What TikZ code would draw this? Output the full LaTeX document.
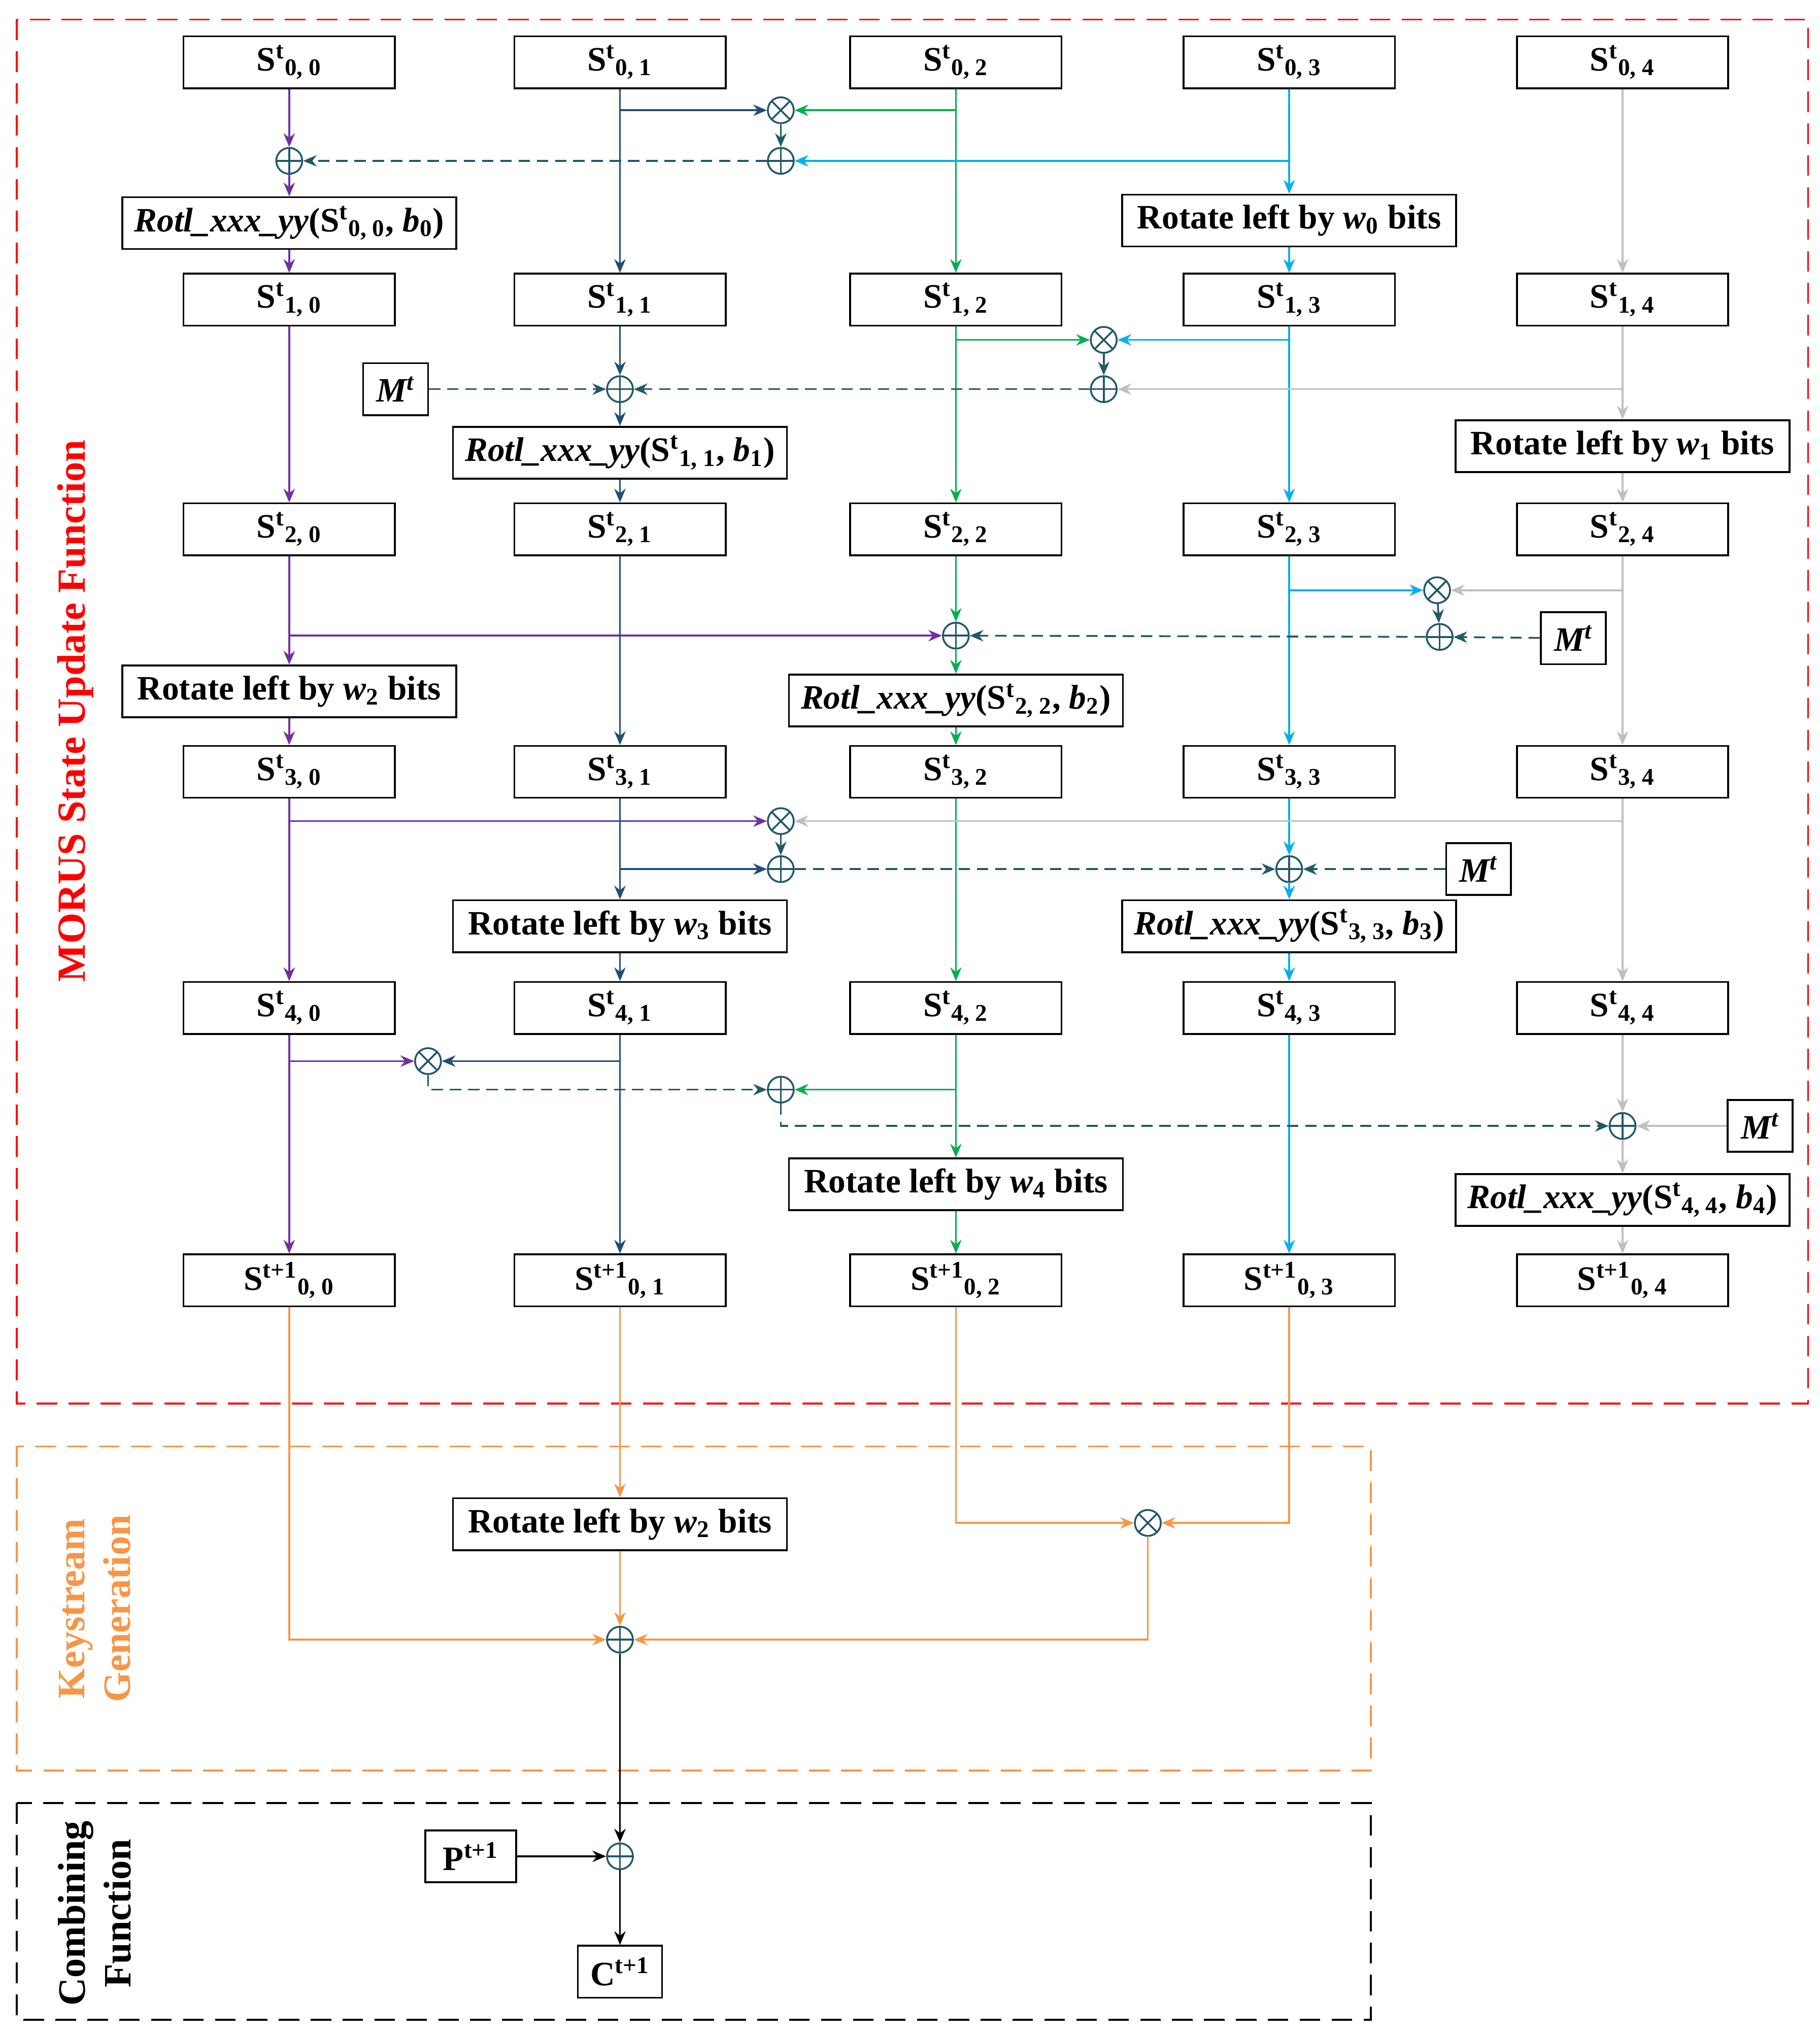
\documentclass[tikz,border=0pt]{standalone}
\usepackage{fontspec}
\setmainfont{Liberation Serif}
\usetikzlibrary{arrows.meta,calc}
\definecolor{pur}{RGB}{112,48,160}
\definecolor{blu}{RGB}{31,78,121}
\definecolor{grn}{RGB}{0,176,80}
\definecolor{cya}{RGB}{0,176,240}
\definecolor{gry}{RGB}{191,191,191}
\definecolor{tl}{RGB}{33,89,104}
\definecolor{org}{RGB}{247,150,70}
\newcommand{\St}[2]{\textbf{S\textsuperscript{#1}\textsubscript{#2}}}
\newcommand{\Rotl}[2]{\textbf{\textit{Rotl\_xxx\_yy}}(S\textsuperscript{t}\textsubscript{#1}, \textit{b}\textsubscript{#2})}
\newcommand{\Rot}[1]{Rotate left by \textit{w}\textsubscript{#1} bits}
\newcommand{\Mt}{\textit{M\textsuperscript{t}}}
\begin{document}
\begin{tikzpicture}[x=0.02cm,y=-0.02cm,
  box/.style={draw,thick,minimum width=3.26cm,minimum height=0.8cm,inner sep=1pt,font=\fontsize{15}{17}\bfseries\selectfont},
  rbox/.style={box,minimum width=5.15cm},
  mbox/.style={box,minimum width=1cm},
  arr/.style={thick,-{Stealth[length=6pt,width=5pt]}},
  dsh/.style={arr,dashed,dash pattern=on 5pt off 3pt},
  opp/.style={draw=tl,thick,circle,minimum size=0.4cm,inner sep=0pt,fill=white},
  plus/.style={opp,path picture={\draw[tl] (path picture bounding box.north)--(path picture bounding box.south) (path picture bounding box.west)--(path picture bounding box.east);}},
  times/.style={opp,path picture={\draw[tl] (path picture bounding box.north west)--(path picture bounding box.south east) (path picture bounding box.north east)--(path picture bounding box.south west);}}]
\useasboundingbox (0,0) rectangle (1403,1568);
% frames
\draw[red,thick,dash pattern=on 9pt off 5pt] (13,15) rectangle (1394,1082);
\draw[org,thick,dash pattern=on 9pt off 5pt] (13,1115) rectangle (1057,1365);
\draw[black,thick,dash pattern=on 9pt off 5pt] (13,1390) rectangle (1057,1557);
\node[rotate=90,red,font=\fontsize{17.5}{19}\bfseries\selectfont] (lab1) at (58,548) {MORUS State Update Function};
\node[rotate=90,org,align=center,font=\fontsize{17}{20}\bfseries\selectfont] (lab2) at (73,1240) {Keystream\\Generation};
\node[rotate=90,align=center,font=\fontsize{17}{20}\bfseries\selectfont] (lab3) at (73,1475) {Combining\\Function};
% state boxes
\foreach \r/\y in {0/48,1/231,2/408,3/595,4/777}
  \foreach \c/\x in {0/223,1/478,2/737,3/994,4/1251}
    \node[box] (s\r\c) at (\x,\y) {\St{t}{\r, \c}};
\foreach \c/\x in {0/223,1/478,2/737,3/994,4/1251}
  \node[box] (s5\c) at (\x,987) {\St{t+1}{0, \c}};
% rotation boxes
\node[rbox] (r0) at (223,172) {\Rotl{0, 0}{0}};
\node[rbox] (w0) at (994,170) {\Rot{0}};
\node[rbox] (r1) at (478,349) {\Rotl{1, 1}{1}};
\node[rbox] (w1) at (1251,344) {\Rot{1}};
\node[rbox] (r2) at (737,540) {\Rotl{2, 2}{2}};
\node[rbox] (w2) at (223,533) {\Rot{2}};
\node[rbox] (r3) at (994,714) {\Rotl{3, 3}{3}};
\node[rbox] (w3) at (478,714) {\Rot{3}};
\node[rbox] (r4) at (1251,925) {\Rotl{4, 4}{4}};
\node[rbox] (w4) at (737,913) {\Rot{4}};
\node[rbox] (kw) at (478,1175) {\Rot{2}};
% message boxes
\node[mbox] (m1) at (305,300) {\Mt};
\node[mbox] (m2) at (1213,492) {\Mt};
\node[mbox] (m3) at (1140,670) {\Mt};
\node[mbox] (m4) at (1357,868) {\Mt};
\node[box,minimum width=1.4cm] (p) at (363,1431) {P\textsuperscript{t+1}};
\node[box,minimum width=1.3cm] (cb) at (478,1520) {C\textsuperscript{t+1}};
% operators
\node[times] (x0) at (602,85) {};
\node[plus] (y0) at (602,124) {};
\node[plus] (a0) at (223,124) {};
\node[times] (x1) at (851,262) {};
\node[plus] (y1) at (851,300) {};
\node[plus] (a1) at (478,300) {};
\node[times] (x2) at (1108,455) {};
\node[plus] (y2) at (1110,491) {};
\node[plus] (a2) at (737,490) {};
\node[times] (x3) at (602,633) {};
\node[plus] (a3) at (602,670) {};
\node[plus] (b3) at (994,670) {};
\node[times] (x4) at (330,818) {};
\node[plus] (a4) at (602,840) {};
\node[plus] (a5) at (1251,868) {};
\node[times] (kx) at (885,1174) {};
\node[plus] (k1) at (478,1264) {};
\node[plus] (c1) at (478,1431) {};
% column 0
\draw[pur,arr] (s00) -- (a0);
\draw[pur,arr] (a0) -- (r0);
\draw[pur,arr] (r0) -- (s10);
\draw[pur,arr] (s10) -- (s20);
\draw[pur,arr] (s20) -- (w2);
\draw[pur,arr] (a2 -| s20) -- (a2);
\draw[pur,arr] (w2) -- (s30);
\draw[pur,arr] (s30) -- (s40);
\draw[pur,arr] (x3 -| s30) -- (x3);
\draw[pur,arr] (s40) -- (s50);
\draw[pur,arr] (x4 -| s40) -- (x4);
% column 1
\draw[blu,arr] (s01) -- (s11);
\draw[blu,arr] (x0 -| s01) -- (x0);
\draw[blu,arr] (s11) -- (a1);
\draw[blu,arr] (a1) -- (r1);
\draw[blu,arr] (r1) -- (s21);
\draw[blu,arr] (s21) -- (s31);
\draw[blu,arr] (s31) -- (w3);
\draw[blu,arr] (a3 -| s31) -- (a3);
\draw[blu,arr] (w3) -- (s41);
\draw[blu,arr] (s41) -- (s51);
\draw[blu,arr] (x4 -| s41) -- (x4);
% column 2
\draw[grn,arr] (s02) -- (s12);
\draw[grn,arr] (x0 -| s02) -- (x0);
\draw[grn,arr] (s12) -- (s22);
\draw[grn,arr] (x1 -| s12) -- (x1);
\draw[grn,arr] (s22) -- (a2);
\draw[grn,arr] (a2) -- (r2);
\draw[grn,arr] (r2) -- (s32);
\draw[grn,arr] (s32) -- (s42);
\draw[grn,arr] (s42) -- (w4);
\draw[grn,arr] (a4 -| s42) -- (a4);
\draw[grn,arr] (w4) -- (s52);
% column 3
\draw[cya,arr] (s03) -- (w0);
\draw[cya,arr] (y0 -| s03) -- (y0);
\draw[cya,arr] (w0) -- (s13);
\draw[cya,arr] (s13) -- (s23);
\draw[cya,arr] (x1 -| s13) -- (x1);
\draw[cya,arr] (s23) -- (s33);
\draw[cya,arr] (x2 -| s23) -- (x2);
\draw[cya,arr] (s33) -- (b3);
\draw[cya,arr] (b3) -- (r3);
\draw[cya,arr] (r3) -- (s43);
\draw[cya,arr] (s43) -- (s53);
% column 4
\draw[gry,arr] (s04) -- (s14);
\draw[gry,arr] (s14) -- (w1);
\draw[gry,arr] (y1 -| s14) -- (y1);
\draw[gry,arr] (w1) -- (s24);
\draw[gry,arr] (s24) -- (s34);
\draw[gry,arr] (x2 -| s24) -- (x2);
\draw[gry,arr] (s34) -- (s44);
\draw[gry,arr] (x3 -| s34) -- (x3);
\draw[gry,arr] (s44) -- (a5);
\draw[gry,arr] (a5) -- (r4);
\draw[gry,arr] (r4) -- (s54);
\draw[gry,arr] (m4) -- (a5);
% feedback
\draw[tl,arr] (x0) -- (y0);
\draw[tl,dsh] (y0) -- (a0);
\draw[tl,arr] (x1) -- (y1);
\draw[tl,dsh] (y1) -- (a1);
\draw[tl,dsh] (m1) -- (a1);
\draw[tl,arr] (x2) -- (y2);
\draw[tl,dsh] (y2) -- (a2);
\draw[tl,dsh] (m2) -- (y2);
\draw[tl,arr] (x3) -- (a3);
\draw[tl,dsh] (a3) -- (b3);
\draw[tl,dsh] (m3) -- (b3);
\draw[tl,dsh] (x4) |- (a4);
\draw[tl,dsh] (a4) |- (a5);
% keystream
\draw[org,arr] (s50) |- (k1);
\draw[org,arr] (s51) -- (kw);
\draw[org,arr] (kw) -- (k1);
\draw[org,arr] (s52) |- (kx);
\draw[org,arr] (s53) |- (kx);
\draw[org,arr] (kx) |- (k1);
% combining
\draw[black,arr] (k1) -- (c1);
\draw[black,arr] (p) -- (c1);
\draw[black,arr] (c1) -- (cb);
\end{tikzpicture}
\end{document}
